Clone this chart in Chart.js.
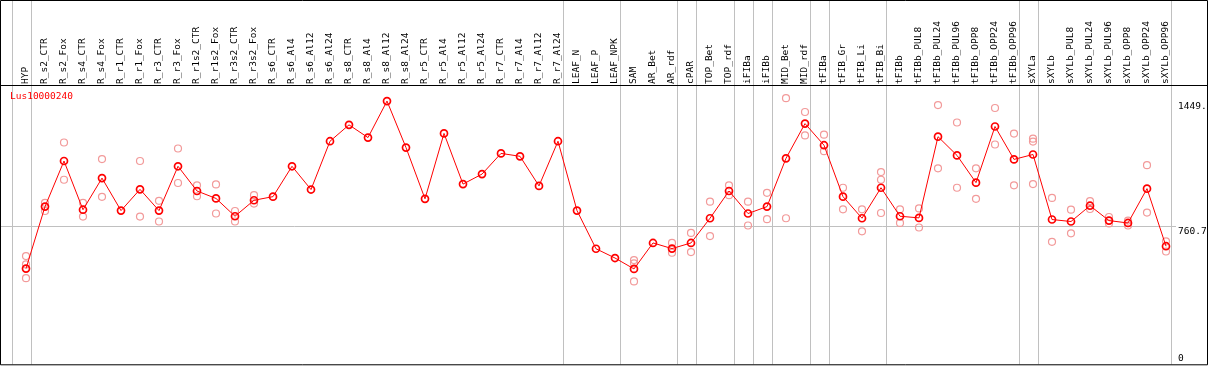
<!DOCTYPE html>
<html>
<head>
<meta charset="utf-8">
<script src="https://cdn.jsdelivr.net/npm/chart.js@4.4.0/dist/chart.umd.min.js"></script>
<style>
  html, body { margin: 0; padding: 0; background: #fff; }
  #wrap { width: 1209px; height: 370px; position: relative; }
</style>
</head>
<body>
<div id="wrap"><canvas id="geneChart"></canvas></div>
<script>
const geneName = 'Lus10000240';

const categories = ['HYP', 'R_s2_CTR', 'R_s2_Fox', 'R_s4_CTR', 'R_s4_Fox', 'R_r1_CTR', 'R_r1_Fox',
  'R_r3_CTR', 'R_r3_Fox', 'R_r1s2_CTR', 'R_r1s2_Fox', 'R_r3s2_CTR', 'R_r3s2_Fox', 'R_s6_CTR',
  'R_s6_Al4', 'R_s6_Al12', 'R_s6_Al24', 'R_s8_CTR', 'R_s8_Al4', 'R_s8_Al12', 'R_s8_Al24',
  'R_r5_CTR', 'R_r5_Al4', 'R_r5_Al12', 'R_r5_Al24', 'R_r7_CTR', 'R_r7_Al4', 'R_r7_Al12', 'R_r7_Al24',
  'LEAF_N', 'LEAF_P', 'LEAF_NPK', 'SAM', 'AR_Bet', 'AR_rdf', 'cPAR', 'TOP_Bet', 'TOP_rdf',
  'iFIBa', 'iFIBb', 'MID_Bet', 'MID_rdf', 'tFIBa', 'tFIB_Gr', 'tFIB_Li', 'tFIB_Bi', 'tFIBb',
  'tFIBb_PUL8', 'tFIBb_PUL24', 'tFIBb_PUL96', 'tFIBb_OPP8', 'tFIBb_OPP24', 'tFIBb_OPP96',
  'sXYLa', 'sXYLb', 'sXYLb_PUL8', 'sXYLb_PUL24', 'sXYLb_PUL96', 'sXYLb_OPP8', 'sXYLb_OPP24', 'sXYLb_OPP96'];

// mean expression per sample
const meanValues = [527, 868, 1119, 851, 1025, 846, 963, 846, 1090, 954, 913, 815, 903, 923,
  1090, 962, 1228, 1318, 1248, 1449, 1193, 911, 1271, 992, 1047, 1161, 1145, 982, 1228,
  846, 636, 585, 525, 668, 637, 668, 804, 954, 830, 868, 1134, 1325, 1206, 923, 804, 972, 815,
  806, 1253, 1150, 1000, 1309, 1128, 1155, 797, 786, 873, 791, 778, 967, 650];

// replicates (null = not shown)
const repA = [596, 889, 1221, 889, 1130, null, 1119, 900, 1188, 985, 990, 844, 931, null,
  null, null, null, null, null, null, null, null, null, null, null, null, null, null, null,
  null, null, null, 574, null, 668, 723, 895, 985, 895, 944, 1465, 1389, 1264, 972, 853, 1058, 853,
  858, 1427, 1331, 1079, 1411, 1270, 1242, 916, 851, 898, 811, 791, 1096, 677];
const repB = [474, 844, 1016, 813, 922, null, 813, 786, 998, 925, 830, 786, 885, null,
  null, null, null, null, null, null, null, null, null, null, null, null, null, null, null,
  null, null, null, 456, null, 614, 618, 706, 931, 764, 799, 804, 1260, 1173, 853, 732, 833, 778,
  753, 1079, 972, 911, 1210, 985, 992, 674, 721, 855, 775, 764, 835, 621];
const repC = [550, null, null, null, null, null, null, null, null, null, null, null, null, null,
  null, null, null, null, null, null, null, null, null, null, null, null, null, null, null,
  null, null, null, 556, null, null, null, null, null, null, null, null, null, null, null, null, 1016, null,
  null, null, null, null, null, null, 1226, null, null, null, null, null, null, null];

// index of the last sample in each group (-1 = before the first)
const groupEnds = [-1, 0, 28, 31, 34, 35, 37, 38, 39, 41, 42, 45, 52, 53, 60];

const yTickValues = [0, 760.7, 1449];
const yTickLabels = ['0', '760.7', '1449.'];
const refValue = 760.7;
const yMax = 1532;

const monoFont = '"DejaVu Sans Mono", "Liberation Mono", monospace';
const labelSize = 9.5;

const framePlugin = {
  id: 'frame',
  beforeDatasetsDraw(chart) {
    const { ctx, scales: { x, y } } = chart;
    ctx.save();
    ctx.lineWidth = 1;
    ctx.strokeStyle = '#c0c0c0';
    // group separators
    const step = x.getPixelForValue(1) - x.getPixelForValue(0);
    groupEnds.forEach(i => {
      const px = Math.round(x.getPixelForValue(0) + step * (i + 0.25)) + 0.5;
      ctx.beginPath();
      ctx.moveTo(px, 0);
      ctx.lineTo(px, y.bottom);
      ctx.stroke();
    });
    // reference line
    const ry = Math.round(y.getPixelForValue(refValue)) + 0.5;
    ctx.beginPath();
    ctx.moveTo(1, ry);
    ctx.lineTo(1176, ry);
    ctx.stroke();
    ctx.restore();
  },
  afterDraw(chart) {
    const { ctx, scales: { y }, chartArea } = chart;
    ctx.save();
    ctx.strokeStyle = '#000';
    ctx.lineWidth = 1;
    ctx.beginPath();
    ctx.moveTo(0.5, 0.5);
    ctx.lineTo(1207.5, 0.5);
    ctx.lineTo(1207.5, chartArea.bottom + 0.5);
    ctx.lineTo(0.5, chartArea.bottom + 0.5);
    ctx.closePath();
    ctx.moveTo(0, chartArea.top - 0.5);
    ctx.lineTo(1208, chartArea.top - 0.5);
    ctx.stroke();

    ctx.font = labelSize + 'px ' + monoFont;
    ctx.fillStyle = '#000';
    ctx.textBaseline = 'top';
    ctx.textAlign = 'left';
    yTickValues.forEach((v, i) => {
      let py = y.getPixelForValue(v) + 1;
      if (py > chartArea.bottom - 11) py = chartArea.bottom - 11;
      ctx.fillText(yTickLabels[i], 1178, py);
    });

    ctx.fillStyle = '#ff0000';
    ctx.fillText(geneName, 10, chartArea.top + 6);
    ctx.restore();
  }
};

const ctx = document.getElementById('geneChart');
new Chart(ctx, {
  type: 'line',
  data: {
    labels: categories,
    datasets: [{
      label: 'mean',
      data: meanValues,
      borderColor: '#ff0000',
      borderWidth: 1,
      pointRadius: 3.5,
      pointBorderWidth: 1.7,
      pointBorderColor: '#ff0000',
      pointBackgroundColor: 'rgba(0,0,0,0)',
      tension: 0,
      clip: false
    }, {
      label: 'rep1',
      data: repA,
      showLine: false,
      pointRadius: 3.5,
      pointBorderWidth: 1.2,
      pointBorderColor: '#f29a9a',
      pointBackgroundColor: 'rgba(0,0,0,0)',
      clip: false
    }, {
      label: 'rep2',
      data: repB,
      showLine: false,
      pointRadius: 3.5,
      pointBorderWidth: 1.2,
      pointBorderColor: '#f29a9a',
      pointBackgroundColor: 'rgba(0,0,0,0)',
      clip: false
    }, {
      label: 'rep3',
      data: repC,
      showLine: false,
      pointRadius: 3.5,
      pointBorderWidth: 1.2,
      pointBorderColor: '#f29a9a',
      pointBackgroundColor: 'rgba(0,0,0,0)',
      clip: false
    }]
  },
  options: {
    responsive: true,
    maintainAspectRatio: false,
    animation: false,
    layout: {
      padding: { left: 26, right: 43, top: 0, bottom: 2 }
    },
    plugins: {
      legend: { display: false },
      tooltip: { enabled: false }
    },
    scales: {
      x: {
        position: 'top',
        offset: false,
        grid: { display: false, drawTicks: false },
        border: { display: false },
        afterFit: (scale) => { scale.height = 86; },
        ticks: {
          autoSkip: false,
          minRotation: 90,
          maxRotation: 90,
          padding: 2,
          labelOffset: labelSize * 1.2,
          color: '#000',
          font: { family: monoFont, size: labelSize }
        }
      },
      y: {
        display: false,
        min: 0,
        max: yMax
      }
    }
  },
  plugins: [framePlugin]
});
</script>
</body>
</html>
